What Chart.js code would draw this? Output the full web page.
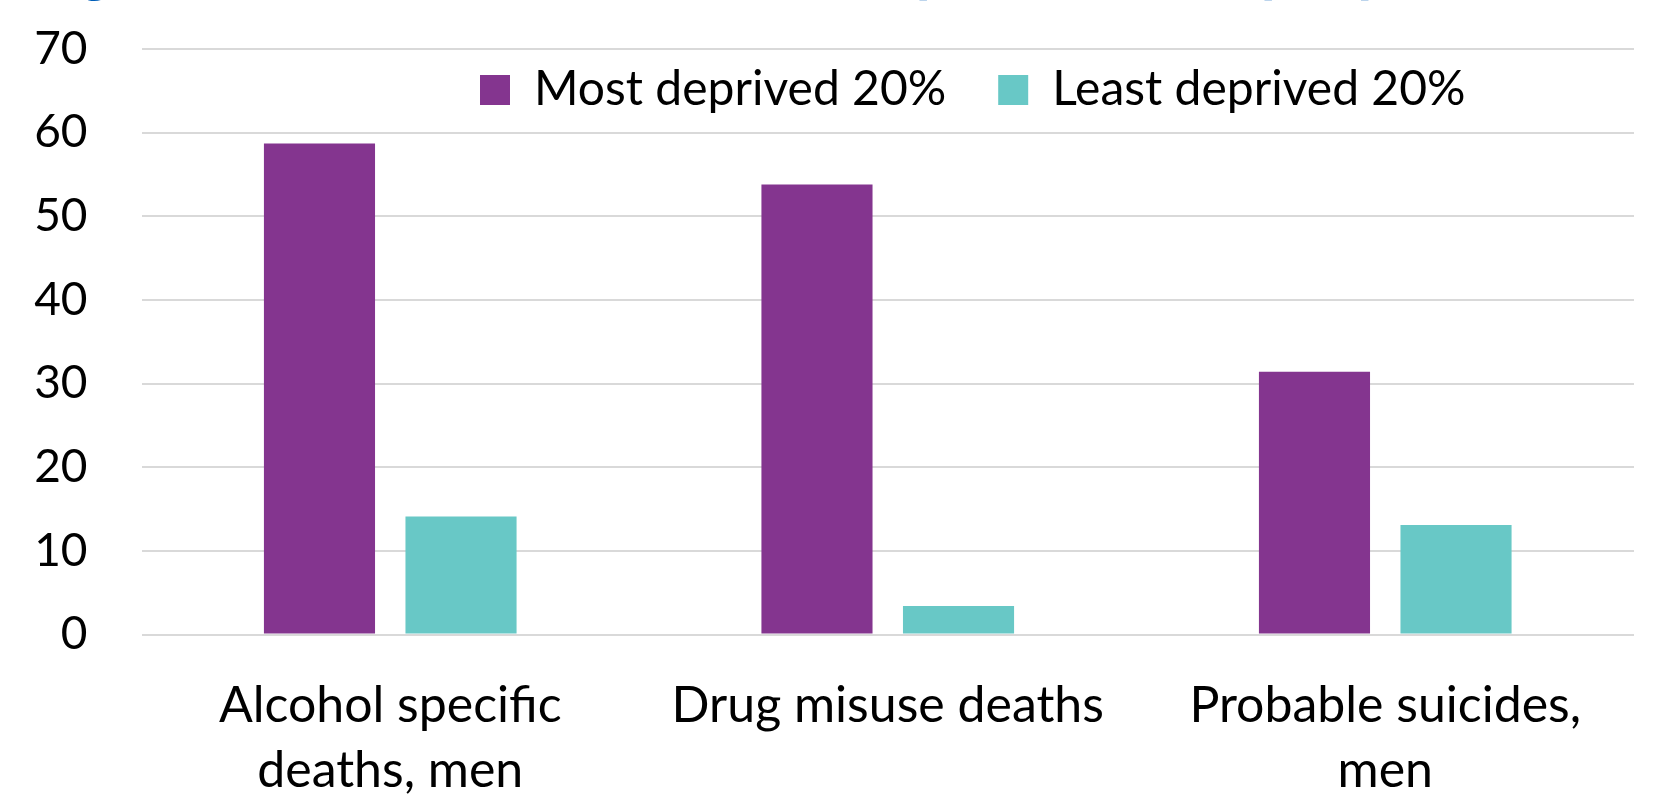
<!DOCTYPE html>
<html>
<head>
<meta charset="utf-8">
<script src="https://cdn.jsdelivr.net/npm/chart.js@4/dist/chart.umd.min.js"></script>
<style>
  html, body { margin: 0; padding: 0; background: #ffffff; }
  #wrap { position: relative; width: 1669px; height: 795px; overflow: hidden; }
</style>
</head>
<body>
<div id="wrap"><canvas id="chart" width="1669" height="795"></canvas></div>
<script>
// Mortality rates by deprivation group
const categories = [
  ['Alcohol specific', 'deaths, men'],
  ['Drug misuse deaths'],
  ['Probable suicides,', 'men']
];
const seriesNames = ['Most deprived 20%', 'Least deprived 20%'];
const mostDeprived = [58.7, 53.8, 31.4];
const leastDeprived = [14.1, 3.4, 13.1];
const yTicks = [0, 10, 20, 30, 40, 50, 60, 70];
const titleText = '(age-standardised mortality rates per 100,000 people),';

const FONT = 'Lato, "Noto Sans", sans-serif';
const PURPLE = '#84358f';
const TEAL = '#68c8c6';
const GRID = '#d9d9d9';

// Heading sits above the plot, mostly clipped by the top edge
const headingPlugin = {
  id: 'heading',
  afterDraw(chart) {
    const ctx = chart.ctx;
    ctx.save();
    let size = 54;
    ctx.font = `italic bold ${size}px ${FONT}`;
    const w = ctx.measureText(titleText).width;
    size = size * 1434 / w;
    ctx.font = `italic bold ${size}px ${FONT}`;
    ctx.fillStyle = '#005eb8';
    ctx.textAlign = 'left';
    ctx.textBaseline = 'alphabetic';
    ctx.fillText(titleText, 36, -10);
    ctx.restore();
  }
};

// The legend reserves only a sliver at the top; afterwards it is moved
// inside the plot, between the two top gridlines
const legendPlacePlugin = {
  id: 'legendPlace',
  afterLayout(chart) {
    const lg = chart.legend;
    if (!lg) return;
    const pad = lg.options.labels.padding;
    const fs = lg.options.labels.font.size;
    lg.left = 480 - pad;
    lg.right = chart.width;
    lg.width = lg.right - lg.left;
    lg.top = 90 - fs / 2 - pad;
    lg.height = 200;
    lg.bottom = lg.top + lg.height;
  }
};

new Chart(document.getElementById('chart'), {
  type: 'bar',
  data: {
    labels: categories,
    datasets: [
      { label: seriesNames[0], data: mostDeprived, backgroundColor: PURPLE, borderWidth: 0 },
      { label: seriesNames[1], data: leastDeprived, backgroundColor: TEAL, borderWidth: 0 }
    ]
  },
  options: {
    responsive: false,
    animation: false,
    devicePixelRatio: 1,
    layout: { padding: { top: 48, right: 35, bottom: 0, left: 0 } },
    datasets: {
      bar: { categoryPercentage: 0.569, barPercentage: 0.785 }
    },
    plugins: {
      legend: {
        position: 'top',
        align: 'start',
        maxHeight: 1,
        labels: {
          boxWidth: 30,
          boxHeight: 30,
          padding: 52,
          color: '#000000',
          font: { family: FONT, size: 48 }
        }
      },
      tooltip: { enabled: false },
      title: { display: false }
    },
    scales: {
      x: {
        grid: { display: false },
        border: { display: false },
        ticks: {
          color: '#000000',
          font: { family: FONT, size: 50, lineHeight: '65px' },
          padding: 31,
          maxRotation: 0,
          autoSkip: false
        },
        afterFit(scale) {
          scale.height = 795 - 634.5;
          scale.paddingLeft = 0;
          scale.paddingRight = 0;
        }
      },
      y: {
        min: 0,
        max: 70,
        afterBuildTicks(scale) { scale.ticks = yTicks.map(v => ({ value: v })); },
        grid: { color: GRID, lineWidth: 2, drawTicks: false },
        border: { display: false },
        ticks: {
          color: '#000000',
          font: { family: FONT, size: 46 },
          padding: 54
        },
        afterFit(scale) {
          scale.width = 141.5;
          scale.paddingTop = 0;
          scale.paddingBottom = 0;
        }
      }
    }
  },
  plugins: [legendPlacePlugin, headingPlugin]
});
</script>
</body>
</html>
